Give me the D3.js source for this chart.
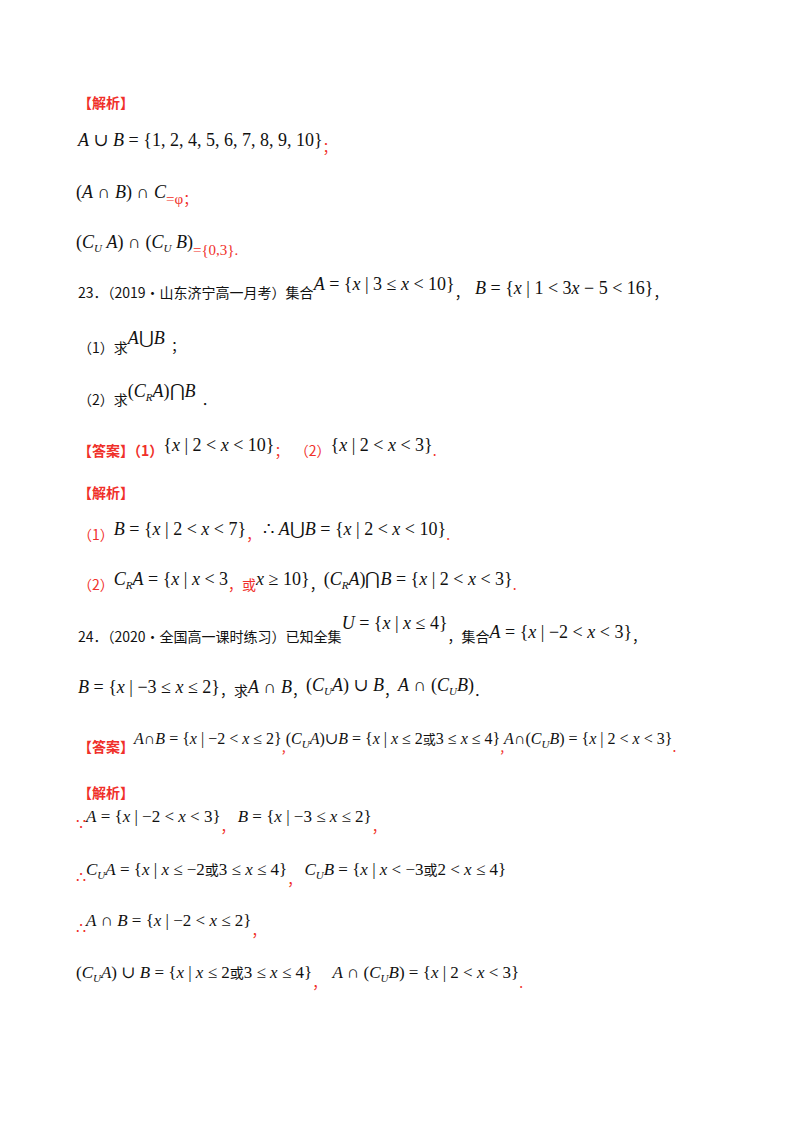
<!DOCTYPE html>
<html><head><meta charset="utf-8">
<script src="https://cdn.jsdelivr.net/npm/d3@7"></script>
<style>body{margin:0;background:#fff}</style>
</head><body>
<svg id="page" width="800" height="1132"></svg>
<script>
// segment types: r = red cjk, k = black cjk, m = black math, rm = red math; third item = vertical shift, fourth = font size
var rowY = [108, 146, 198, 248, 298, 353, 405, 456, 498, 540, 590, 642, 696, 752, 798, 824, 877, 928, 980];
var rowX = [78, 78, 76, 76, 78, 78, 78, 78, 78, 78, 78, 78, 78, 78, 78, 76, 76, 76, 76];
var rows = [
  [["r", "【解析】", 0]],
  [["m", "A ∪ B = {1, 2, 4, 5, 6, 7, 8, 9, 10}", 0], ["r", "；", 6]],
  [["m", "(A ∩ B) ∩ C", 0], ["rm", "=φ", 6], ["r", "；", 6]],
  [["m", "(C_U A) ∩ (C_U B)", 0], ["rm", "={0,3}.", 7]],
  [["k", "23．（2019·山东济宁高一月考）集合", 0], ["m", "A = {x | 3 ≤ x < 10}", -8], ["k", "，  ", 0], ["m", "B = {x | 1 < 3x − 5 < 16}", -4], ["k", "，", 0]],
  [["k", "（1）求", 0], ["m", "A⋃B", -9], ["k", "  ；", -2]],
  [["k", "（2）求", 0], ["m", "(C_RA)⋂B", -8], ["k", "  ．", 0]],
  [["r", "【答案】（1）", 0], ["m", "{x | 2 < x < 10}", -5], ["r", "；  （2）", 0], ["m", "{x | 2 < x < 3}", -5], ["r", ".", 0]],
  [["r", "【解析】", 0]],
  [["r", "（1）", 0], ["m", "B = {x | 2 < x < 7}", -5], ["r", "， ", 0], ["m", "∴ A⋃B = {x | 2 < x < 10}", -5], ["r", ".", 0]],
  [["r", "（2）", 0], ["m", "C_RA = {x | x < 3", -5], ["r", "，或", 0], ["m", "x ≥ 10}", -5], ["k", "，", 0], ["m", "(C_RA)⋂B = {x | 2 < x < 3}", -5], ["r", ".", 0]],
  [["k", "24．（2020·全国高一课时练习）已知全集", 0], ["m", "U = {x | x ≤ 4}", -13], ["k", "，集合", 0], ["m", "A = {x | −2 < x < 3}", -4], ["k", "，", 0]],
  [["m", "B = {x | −3 ≤ x ≤ 2}", -3], ["k", "，求", 0], ["m", "A ∩ B", -3], ["k", "，", 0], ["m", "(C_UA) ∪ B", -5], ["k", "，", 0], ["m", "A ∩ (C_UB)", -5], ["k", "．", 0]],
  [["r", "【答案】", 0], ["m", "A∩B = {x | −2 < x ≤ 2}", -8, 16], ["r", ",", 0], ["m", "(C_UA)∪B = {x | x ≤ 2或3 ≤ x ≤ 4}", -8, 16], ["r", ",", 0], ["m", "A∩(C_UB) = {x | 2 < x < 3}", -8, 16], ["r", ".", 0]],
  [["r", "【解析】", 0]],
  [["rs", "∵", 6], ["m", "A = {x | −2 < x < 3}", -2, 17], ["r", "， ", 8], ["m", "B = {x | −3 ≤ x ≤ 2}", -2, 17], ["r", "，", 8]],
  [["rs", "∴", 6], ["m", "C_UA = {x | x ≤ −2或3 ≤ x ≤ 4}", -2, 17], ["r", "， ", 8], ["m", "C_UB = {x | x < −3或2 < x ≤ 4}", -2, 17]],
  [["rs", "∴", 6], ["m", "A ∩ B = {x | −2 < x ≤ 2}", -2, 17], ["r", "，", 8]],
  [["m", "(C_UA) ∪ B = {x | x ≤ 2或3 ≤ x ≤ 4}", -2, 17], ["r", "，  ", 8], ["m", "A ∩ (C_UB) = {x | 2 < x < 3}", -2, 17], ["r", ".", 8]]
];

var red = "#f0302a";
var svg = d3.select("#page");

rows.forEach(function(row, i) {
    var text = svg.append("text").attr("x", rowX[i]).attr("y", rowY[i]).attr("xml:space", "preserve");
    var cur = 0;
    row.forEach(function(seg) {
        var type = seg[0], str = seg[1], shift = seg[2];
        var color = (type[0] == "r") ? red : "#111";
        if (type == "rs") {
            text.append("tspan").attr("dy", shift - cur).text(str)
                .attr("fill", color).attr("font-family", "DejaVu Serif").attr("font-size", 16);
            cur = shift;
            return;
        }
        if (type == "r" || type == "k") {
            text.append("tspan").attr("dy", shift - cur).text(str)
                .attr("fill", color).attr("font-family", "Noto Sans CJK SC")
                .attr("font-size", 14).attr("font-weight", type == "r" && str.indexOf("【") >= 0 ? "bold" : null);
            cur = shift;
            return;
        }
        // math: letters italic, _X subscript
        var size = seg[3] || (type == "rm" ? 15 : 18);
        var tokens = str.match(/_[A-Z]|[A-Za-z]|或|[^A-Za-z_或]+/g);
        tokens.forEach(function(tk) {
            var sub = tk[0] == "_";
            var t = sub ? tk[1] : tk;
            var off = shift + (sub ? 4 : 0);
            var isLetter = /^[A-Za-z]$/.test(t);
            var cjk = t == "或";
            text.append("tspan").attr("dy", off - cur).text(t)
                .attr("fill", color)
                .attr("font-family", cjk ? "Noto Sans CJK SC" : "Liberation Serif, DejaVu Serif")
                .attr("font-size", sub ? 11 : (cjk ? size - 3 : size))
                .attr("font-style", isLetter ? "italic" : null);
            cur = off;
        });
    });
});
</script>
</body></html>
